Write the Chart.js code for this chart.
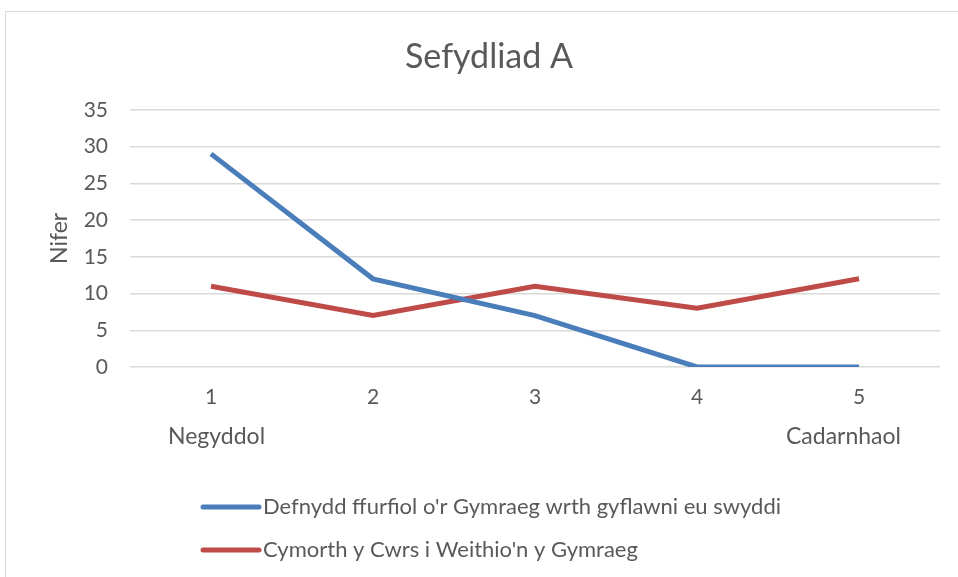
<!DOCTYPE html>
<html>
<head>
<meta charset="utf-8">
<script src="https://cdn.jsdelivr.net/npm/chart.js@4"></script>
<style>
  body { margin: 0; background: #fff; }
  #wrap { position: relative; width: 958px; height: 577px; overflow: hidden; }
  #frame { position: absolute; left: 5px; top: 11px; width: 980px; height: 600px; border: 1px solid #d9d9d9; }
  canvas { position: absolute; left: 0; top: 0; }
</style>
</head>
<body>
<div id="wrap">
  <div id="frame"></div>
  <canvas id="chart" width="958" height="577"></canvas>
</div>
<script>
// chart data
const categories = ['1', '2', '3', '4', '5'];
const seriesNames = [
    "Defnydd ffurfiol o'r Gymraeg wrth gyflawni eu swyddi",
    "Cymorth y Cwrs i Weithio'n y Gymraeg"
];
const formalUse = [29, 12, 7, 0, 0];
const courseSupport = [11, 7, 11, 8, 12];
const endLabels = ['Negyddol', 'Cadarnhaol'];

const FONT = 'Lato, "Open Sans", sans-serif';
const GREY = '#595959';

// draws the two end labels under the x axis
const endLabelsPlugin = {
    id: 'endLabels',
    afterDraw(chart) {
        const ctx = chart.ctx;
        const x = chart.scales.x;
        const rowY = chart.chartArea.bottom + 70;
        ctx.save();
        ctx.font = '23px ' + FONT;
        ctx.fillStyle = GREY;
        ctx.textBaseline = 'middle';
        ctx.textAlign = 'left';
        ctx.fillText(endLabels[0], x.getPixelForValue(0) - 43, rowY);
        ctx.textAlign = 'right';
        ctx.fillText(endLabels[1], x.getPixelForValue(categories.length - 1) + 42, rowY);
        ctx.restore();
    }
};

// vertical legend at the bottom
const stackedLegend = {
    id: 'stackedLegend',
    afterDraw(chart) {
        const ctx = chart.ctx;
        ctx.save();
        chart.data.datasets.forEach((ds, i) => {
            const rowY = 507 + i * 43;
            ctx.strokeStyle = ds.borderColor;
            ctx.lineWidth = 5;
            ctx.lineCap = 'round';
            ctx.beginPath();
            ctx.moveTo(203, rowY);
            ctx.lineTo(259, rowY);
            ctx.stroke();
            ctx.font = '22px ' + FONT;
            ctx.fillStyle = GREY;
            ctx.textBaseline = 'middle';
            ctx.textAlign = 'left';
            ctx.fillText(ds.label, 263, rowY);
        });
        ctx.restore();
    }
};

new Chart(document.getElementById('chart'), {
    type: 'line',
    data: {
        labels: categories,
        datasets: [{
            label: seriesNames[0],
            data: formalUse,
            borderColor: '#4a7ebb',
            borderWidth: 5,
            pointRadius: 0,
            tension: 0
        }, {
            label: seriesNames[1],
            data: courseSupport,
            borderColor: '#be4b48',
            borderWidth: 5,
            pointRadius: 0,
            tension: 0
        }]
    },
    options: {
        responsive: false,
        animation: false,
        layout: { padding: { left: 38, right: 18, top: 0, bottom: 0 } },
        plugins: {
            legend: { display: false },
            tooltip: { enabled: false },
            title: {
                display: true,
                text: 'Sefydliad A',
                color: GREY,
                font: { family: FONT, size: 34, weight: 'normal' },
                padding: { top: 37, bottom: 32 }
            }
        },
        scales: {
            x: {
                offset: true,
                grid: { display: false, drawTicks: false },
                border: { display: false },
                ticks: { color: GREY, font: { family: FONT, size: 21 }, padding: 18 },
                afterFit(scale) { scale.height = 210; }
            },
            y: {
                min: 0,
                max: 35,
                ticks: { stepSize: 5, color: GREY, font: { family: FONT, size: 21 }, padding: 22 },
                grid: { color: '#d9d9d9', lineWidth: 1.5, drawTicks: false },
                border: { display: false },
                title: {
                    display: true,
                    text: 'Nifer',
                    color: GREY,
                    font: { family: FONT, size: 23 },
                    padding: { top: 8 }
                },
                afterFit(scale) { scale.width = 92; }
            }
        }
    },
    plugins: [endLabelsPlugin, stackedLegend]
});
</script>
</body>
</html>
